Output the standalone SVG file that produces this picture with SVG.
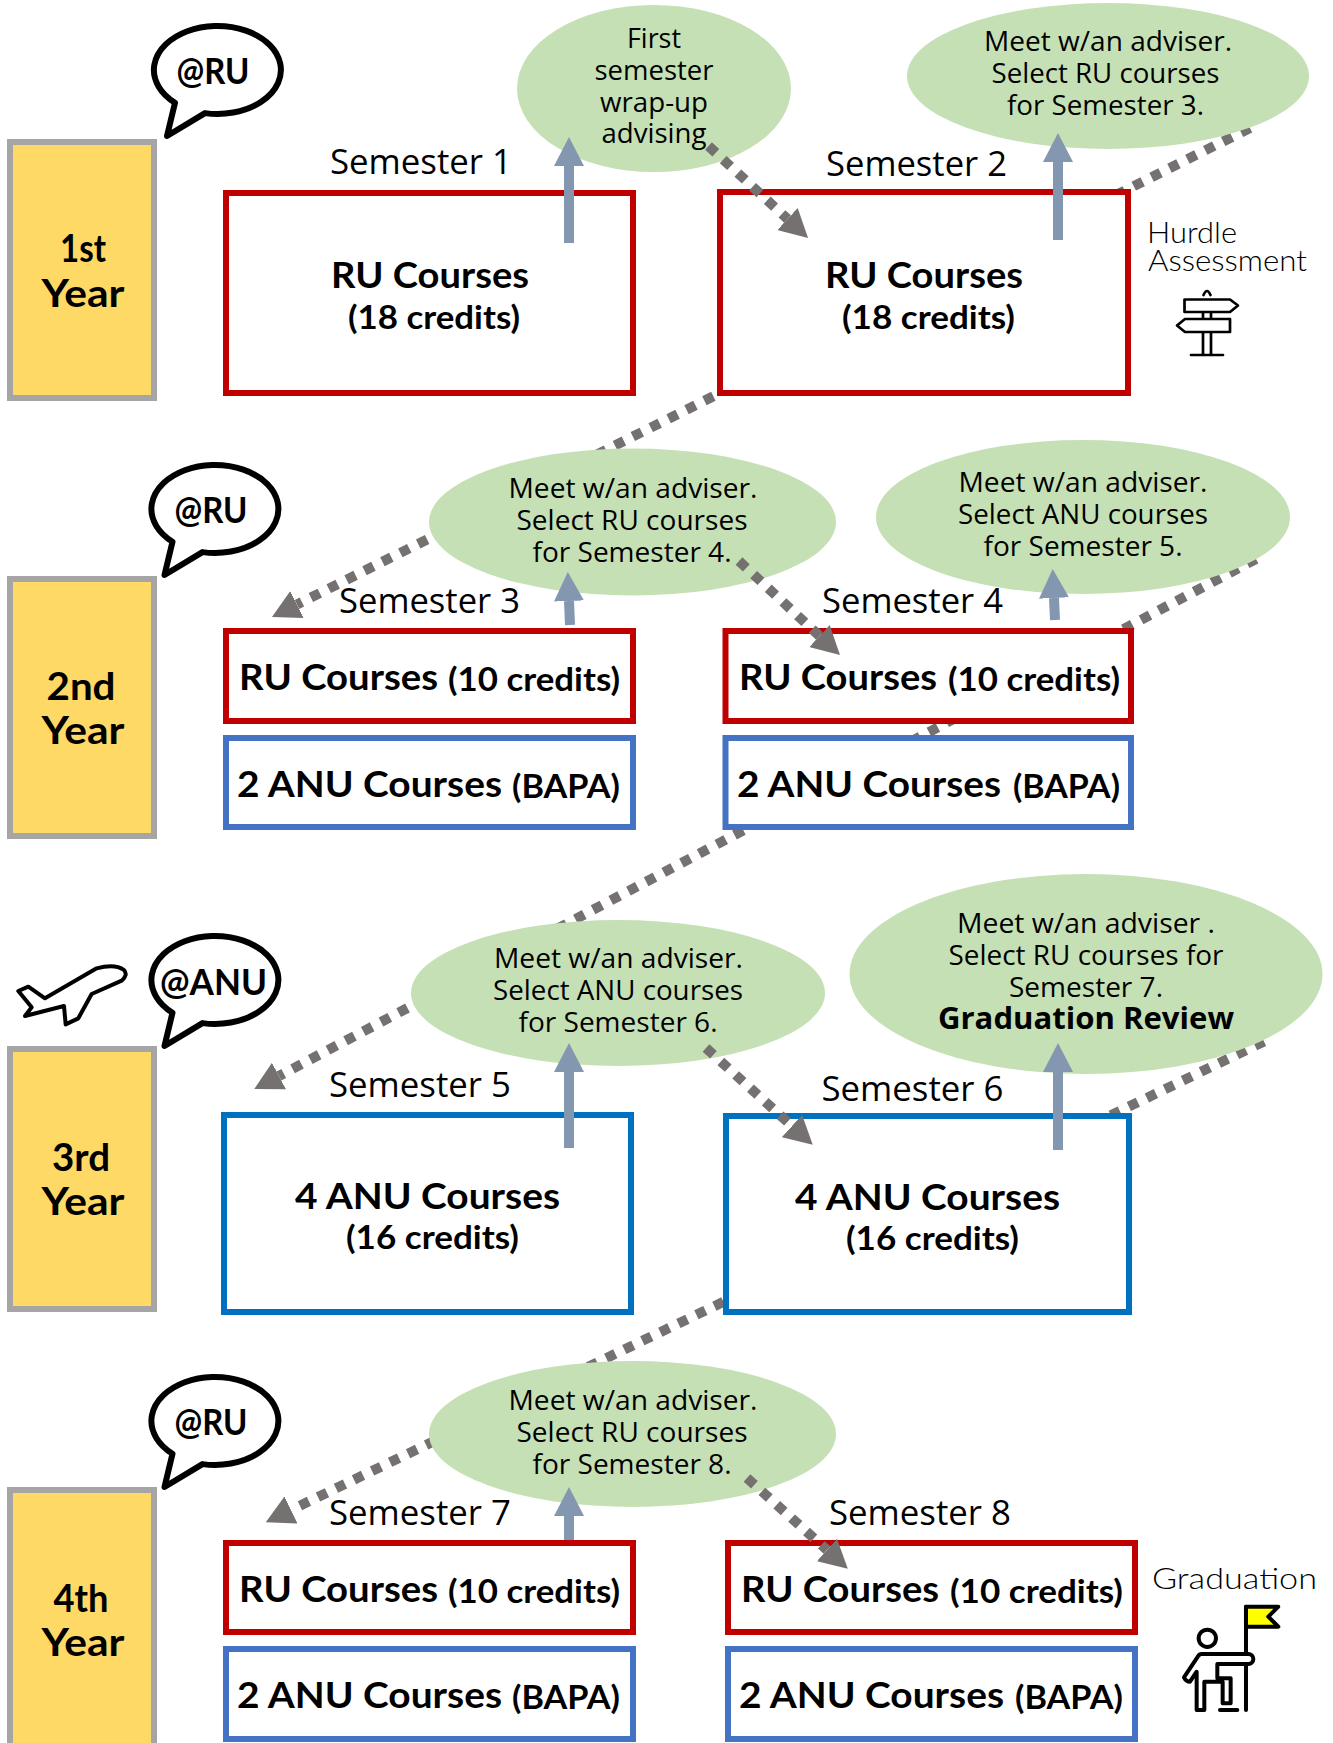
<svg xmlns="http://www.w3.org/2000/svg" xmlns:xlink="http://www.w3.org/1999/xlink" width="1333" height="1743" viewBox="0 0 1333 1743">
<style>
text{fill:#000;font-family:"Open Sans","Liberation Sans",sans-serif}
.y{font:700 38px Lato,"Open Sans",sans-serif;text-anchor:middle}
.h{font:700 37px Lato,"Open Sans",sans-serif}
.c{font:700 32px Lato,"Open Sans",sans-serif}
.at{font:700 37px Lato,"Open Sans",sans-serif;text-anchor:middle}
.s{font-size:34px;text-anchor:middle}
.e{font-size:27px;text-anchor:middle}
.eb{font-size:31px;font-weight:700;text-anchor:middle}
.t{font:300 29px Lato,"Open Sans",sans-serif}
.yb{fill:#FFD966;stroke:#A5A5A5;stroke-width:6}
.r{fill:#fff;stroke:#C00000;stroke-width:6}
.b{fill:#fff;stroke:#4472C4;stroke-width:6}
.b2{fill:#fff;stroke:#0070C0;stroke-width:6}
.g{fill:#C5E0B4}
.d{fill:none;stroke:#767171;stroke-width:10;stroke-dasharray:10 10;marker-end:url(#dh)}
.u{fill:none;stroke:#8497B0;stroke-width:10;marker-end:url(#uh)}
.i{fill:none;stroke:#000;stroke-linejoin:round;stroke-linecap:round}
</style>
<defs>
<marker id="dh" markerUnits="userSpaceOnUse" markerWidth="28" markerHeight="30" viewBox="0 0 28 30" refX="0" refY="15" orient="auto"><path d="M0 0L28 15L0 30Z" fill="#767171"/></marker>
<marker id="uh" markerUnits="userSpaceOnUse" markerWidth="29" markerHeight="30" viewBox="0 0 29 30" refX="0" refY="15" orient="auto"><path d="M0 0L29 15L0 30Z" fill="#8497B0"/></marker>
<path id="bubble" d="M175 102.700L167 136L205 113.100A63.500 44 0 1 0 175 102.700Z" fill="#fff" stroke="#000" stroke-width="6" stroke-linejoin="round"/>
</defs>
<rect width="1333" height="1743" fill="#fff"/>

<g id="connectors-back">
<path class="d" d="M1250 128L297 604.500"/>
<path class="d" d="M1256 559L279 1076"/>
<path class="d" d="M1264 1041.500L291 1510"/>
</g>

<g id="year-1"><rect class="yb" x="10" y="142" width="144" height="256"/><text class="y" x="83" y="262" textLength="46" lengthAdjust="spacingAndGlyphs">1st</text><text class="y" x="83" y="307" textLength="83" lengthAdjust="spacingAndGlyphs">Year</text></g>
<g id="year-2"><rect class="yb" x="10" y="579" width="144" height="257"/><text class="y" x="81" y="700" textLength="69" lengthAdjust="spacingAndGlyphs">2nd</text><text class="y" x="83" y="744" textLength="83" lengthAdjust="spacingAndGlyphs">Year</text></g>
<g id="year-3"><rect class="yb" x="10" y="1049" width="144" height="260"/><text class="y" x="81" y="1171" textLength="58" lengthAdjust="spacingAndGlyphs">3rd</text><text class="y" x="83" y="1215" textLength="83" lengthAdjust="spacingAndGlyphs">Year</text></g>
<g id="year-4"><rect class="yb" x="10" y="1490" width="144" height="280"/><text class="y" x="81" y="1612" textLength="55" lengthAdjust="spacingAndGlyphs">4th</text><text class="y" x="83" y="1656" textLength="83" lengthAdjust="spacingAndGlyphs">Year</text></g>

<g id="bubble-1"><use xlink:href="#bubble" href="#bubble"/><text class="at" x="213" y="84" textLength="73" lengthAdjust="spacingAndGlyphs">@RU</text></g>
<g id="bubble-2"><use xlink:href="#bubble" href="#bubble" x="-2.500" y="439"/><text class="at" x="211" y="523" textLength="73" lengthAdjust="spacingAndGlyphs">@RU</text></g>
<g id="bubble-3"><use xlink:href="#bubble" href="#bubble" x="-2.500" y="910"/><text class="at" x="213.500" y="995" textLength="107" lengthAdjust="spacingAndGlyphs">@ANU</text></g>
<g id="bubble-4"><use xlink:href="#bubble" href="#bubble" x="-2.500" y="1351"/><text class="at" x="211" y="1435" textLength="73" lengthAdjust="spacingAndGlyphs">@RU</text></g>

<g id="plane"><path class="i" transform="translate(0 920) scale(.3333)" style="stroke-width:12" d="M55 213L85 200L135 235L290 145Q345 130 372 150Q385 165 365 182L275 222L235 295L197 313L192 258L75 288L95 262Z"/></g>

<g id="advice-1"><ellipse class="g" cx="654" cy="88.500" rx="137" ry="83.500"/><text class="e" x="654" y="48" textLength="54" lengthAdjust="spacingAndGlyphs">First</text><text class="e" x="654" y="80" textLength="119" lengthAdjust="spacingAndGlyphs">semester</text><text class="e" x="654" y="112" textLength="108" lengthAdjust="spacingAndGlyphs">wrap-up</text><text class="e" x="654" y="143" textLength="105" lengthAdjust="spacingAndGlyphs">advising</text></g>
<g id="advice-2"><ellipse class="g" cx="1108" cy="76" rx="201" ry="73"/><text class="e" x="1108" y="51" textLength="248" lengthAdjust="spacingAndGlyphs">Meet w/an adviser.</text><text class="e" x="1105.500" y="83" textLength="228" lengthAdjust="spacingAndGlyphs">Select RU courses</text><text class="e" x="1105.500" y="115" textLength="197" lengthAdjust="spacingAndGlyphs">for Semester 3.</text></g>
<g id="advice-3"><ellipse class="g" cx="632.500" cy="522" rx="203.500" ry="73.500"/><text class="e" x="633" y="498" textLength="249" lengthAdjust="spacingAndGlyphs">Meet w/an adviser.</text><text class="e" x="632" y="530" textLength="231" lengthAdjust="spacingAndGlyphs">Select RU courses</text><text class="e" x="632" y="562" textLength="199" lengthAdjust="spacingAndGlyphs">for Semester 4.</text></g>
<g id="advice-4"><ellipse class="g" cx="1083" cy="517" rx="207" ry="77"/><text class="e" x="1083" y="492" textLength="249" lengthAdjust="spacingAndGlyphs">Meet w/an adviser.</text><text class="e" x="1083" y="524" textLength="250" lengthAdjust="spacingAndGlyphs">Select ANU courses</text><text class="e" x="1083" y="556" textLength="199" lengthAdjust="spacingAndGlyphs">for Semester 5.</text></g>
<g id="advice-5"><ellipse class="g" cx="618" cy="993" rx="207" ry="73"/><text class="e" x="618.500" y="968" textLength="249" lengthAdjust="spacingAndGlyphs">Meet w/an adviser.</text><text class="e" x="618" y="1000" textLength="250" lengthAdjust="spacingAndGlyphs">Select ANU courses</text><text class="e" x="618" y="1032" textLength="199" lengthAdjust="spacingAndGlyphs">for Semester 6.</text></g>
<g id="advice-6"><ellipse class="g" cx="1086" cy="974" rx="236.500" ry="100"/><text class="e" x="1086" y="933" textLength="258" lengthAdjust="spacingAndGlyphs">Meet w/an adviser .</text><text class="e" x="1086" y="965" textLength="275" lengthAdjust="spacingAndGlyphs">Select RU courses for</text><text class="e" x="1086" y="997" textLength="154" lengthAdjust="spacingAndGlyphs">Semester 7.</text><text class="eb" x="1086" y="1029" textLength="296" lengthAdjust="spacingAndGlyphs">Graduation Review</text></g>
<g id="advice-7"><ellipse class="g" cx="632.500" cy="1434" rx="203.500" ry="73"/><text class="e" x="633" y="1409.500" textLength="249" lengthAdjust="spacingAndGlyphs">Meet w/an adviser.</text><text class="e" x="632" y="1441.500" textLength="231" lengthAdjust="spacingAndGlyphs">Select RU courses</text><text class="e" x="632" y="1473.500" textLength="199" lengthAdjust="spacingAndGlyphs">for Semester 8.</text></g>

<g id="semester-1"><text class="s" x="421" y="174" textLength="182" lengthAdjust="spacingAndGlyphs">Semester 1</text><rect class="r" x="226" y="193" width="407" height="200"/><text class="h" x="331" y="288" textLength="198" lengthAdjust="spacingAndGlyphs">RU Courses</text><text class="c" x="348" y="329" textLength="172" lengthAdjust="spacingAndGlyphs">(18 credits)</text></g>
<g id="semester-2"><text class="s" x="916.500" y="176" textLength="181" lengthAdjust="spacingAndGlyphs">Semester 2</text><rect class="r" x="720" y="192" width="408" height="201"/><text class="h" x="825" y="288" textLength="198" lengthAdjust="spacingAndGlyphs">RU Courses</text><text class="c" x="842" y="329" textLength="173" lengthAdjust="spacingAndGlyphs">(18 credits)</text></g>
<g id="semester-3"><text class="s" x="429.500" y="613" textLength="181" lengthAdjust="spacingAndGlyphs">Semester 3</text><rect class="r" x="226" y="631" width="407" height="90"/><text class="h" y="690"><tspan x="239" textLength="199" lengthAdjust="spacingAndGlyphs">RU Courses</tspan> <tspan class="c" x="448" y="691" textLength="172" lengthAdjust="spacingAndGlyphs">(10 credits)</tspan></text><rect class="b" x="226" y="738" width="407" height="89"/><text class="h" y="797"><tspan x="237" textLength="265" lengthAdjust="spacingAndGlyphs">2 ANU Courses</tspan> <tspan class="c" x="512" y="798" textLength="108" lengthAdjust="spacingAndGlyphs">(BAPA)</tspan></text></g>
<g id="semester-4"><text class="s" x="912.500" y="613" textLength="181" lengthAdjust="spacingAndGlyphs">Semester 4</text><rect class="r" x="725.500" y="631" width="405.500" height="90"/><text class="h" y="690"><tspan x="739" textLength="198" lengthAdjust="spacingAndGlyphs">RU Courses</tspan> <tspan class="c" x="948" y="691" textLength="172" lengthAdjust="spacingAndGlyphs">(10 credits)</tspan></text><rect class="b" x="725.500" y="738" width="405.500" height="89"/><text class="h" y="797"><tspan x="737" textLength="264" lengthAdjust="spacingAndGlyphs">2 ANU Courses</tspan> <tspan class="c" x="1013" y="798" textLength="107" lengthAdjust="spacingAndGlyphs">(BAPA)</tspan></text></g>
<g id="semester-5"><text class="s" x="420" y="1097" textLength="182" lengthAdjust="spacingAndGlyphs">Semester 5</text><rect class="b2" x="224" y="1115" width="407" height="197"/><text class="h" x="295" y="1209" textLength="265" lengthAdjust="spacingAndGlyphs">4 ANU Courses</text><text class="c" x="346" y="1249" textLength="173" lengthAdjust="spacingAndGlyphs">(16 credits)</text></g>
<g id="semester-6"><text class="s" x="912.500" y="1101" textLength="182" lengthAdjust="spacingAndGlyphs">Semester 6</text><rect class="b2" x="726" y="1116" width="403" height="196"/><text class="h" x="795" y="1210" textLength="265" lengthAdjust="spacingAndGlyphs">4 ANU Courses</text><text class="c" x="846" y="1250" textLength="173" lengthAdjust="spacingAndGlyphs">(16 credits)</text></g>
<g id="semester-7"><text class="s" x="420" y="1525" textLength="182" lengthAdjust="spacingAndGlyphs">Semester 7</text><rect class="r" x="226" y="1543" width="407" height="89"/><text class="h" y="1602"><tspan x="239" textLength="199" lengthAdjust="spacingAndGlyphs">RU Courses</tspan> <tspan class="c" x="448" y="1603" textLength="172" lengthAdjust="spacingAndGlyphs">(10 credits)</tspan></text><rect class="b" x="226" y="1649" width="407" height="90"/><text class="h" y="1708"><tspan x="237" textLength="265" lengthAdjust="spacingAndGlyphs">2 ANU Courses</tspan> <tspan class="c" x="512" y="1709" textLength="108" lengthAdjust="spacingAndGlyphs">(BAPA)</tspan></text></g>
<g id="semester-8"><text class="s" x="920" y="1525" textLength="182" lengthAdjust="spacingAndGlyphs">Semester 8</text><rect class="r" x="728" y="1543" width="407" height="89"/><text class="h" y="1602"><tspan x="741" textLength="198" lengthAdjust="spacingAndGlyphs">RU Courses</tspan> <tspan class="c" x="950" y="1603" textLength="173" lengthAdjust="spacingAndGlyphs">(10 credits)</tspan></text><rect class="b" x="728" y="1649" width="407" height="90"/><text class="h" y="1708"><tspan x="739" textLength="265" lengthAdjust="spacingAndGlyphs">2 ANU Courses</tspan> <tspan class="c" x="1015" y="1709" textLength="108" lengthAdjust="spacingAndGlyphs">(BAPA)</tspan></text></g>

<g id="hurdle"><text class="t" x="1147" y="243" textLength="90" lengthAdjust="spacingAndGlyphs">Hurdle</text><text class="t" x="1148" y="271" textLength="159" lengthAdjust="spacingAndGlyphs">Assessment</text>
<path class="i" stroke-width="2.700" d="M1184.500 299.500H1230L1238 305.500L1230 312H1184.500ZM1185 319H1230V332H1185L1177 325.500ZM1203 312V319M1211 312V319M1203 332V355M1211 332V355M1191 355H1223M1203.500 295Q1207 287 1210.500 295"/></g>
<g id="graduation"><text class="t" x="1152" y="1589" textLength="165" lengthAdjust="spacingAndGlyphs">Graduation</text>
<g transform="translate(1100 1540) scale(.3333)"><path d="M438 200H535L505 230L535 260H438Z" fill="#FFFF00" stroke="#000" stroke-width="12" stroke-linejoin="round"/><path class="i" style="stroke-width:12" d="M438 200V335M438 378V510M360 510H412"/><circle class="i" style="stroke-width:12" cx="322" cy="295" r="26"/><path class="i" style="stroke-width:12" d="M305 342H445A15 15 0 0 1 445 372H352V415H392V490H368V425H313V510H290V395L270 425Q258 425 252 412L295 348Q298 342 305 342Z"/></g></g>

<g id="connectors-front">
<path class="d" d="M708.500 146L787.500 219"/>
<path class="d" d="M739 561L819.500 636"/>
<path class="d" d="M706 1048L792 1126"/>
<path class="d" d="M747 1478L827 1550"/>
<path class="u" d="M569 243V166"/>
<path class="u" d="M1058 240V162"/>
<path class="u" d="M570 625L569 601"/>
<path class="u" d="M1055 620L1054 598"/>
<path class="u" d="M569 1148V1072"/>
<path class="u" d="M1058 1150V1072"/>
<path class="u" d="M569 1540V1516"/>
</g>
</svg>
